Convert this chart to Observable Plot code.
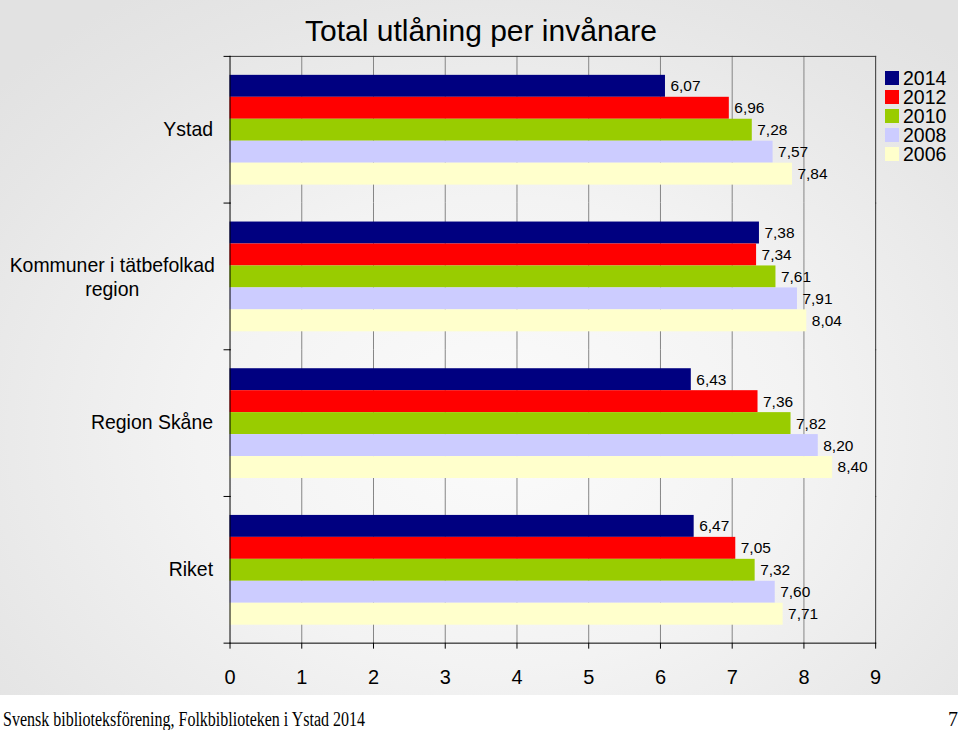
<!DOCTYPE html>
<html>
<head>
<meta charset="utf-8">
<script src="https://cdn.jsdelivr.net/npm/d3@7"></script>
<script src="https://cdn.jsdelivr.net/npm/@observablehq/plot@0.6"></script>
<style>
  html, body { margin: 0; padding: 0; background: #ffffff; }
  body { width: 960px; height: 730px; position: relative; overflow: hidden; font-family: "Liberation Sans", Arial, sans-serif; }
  #panel { position: absolute; left: 0; top: 0; width: 958px; height: 695px;
    background: radial-gradient(ellipse 70% 75% at 52% 62%, #fbfbfb 0%, #f3f3f3 45%, #e6e6e6 85%, #e2e2e2 100%); }
  #title { position: absolute; left: 0; width: 962px; top: 16px; text-align: center; font-size: 30px; line-height: 30px; color: #000; }
  #chart { position: absolute; left: 0; top: 0; }
  #legend { position: absolute; left: 885px; top: 69px; }
  .row { height: 18.8px; display: flex; align-items: center; font-size: 19.5px; line-height: 18px; color: #000; }
  .sw { width: 14px; height: 14px; margin-right: 4px; }
  #footer { position: absolute; left: 3px; top: 707px; font-family: "Liberation Serif", "Times New Roman", serif; font-size: 20px; line-height: 24px; white-space: nowrap; transform-origin: 0 0; color: #000; }
  #page { position: absolute; right: 2px; top: 707px; font-family: "Liberation Serif", "Times New Roman", serif; font-size: 20px; line-height: 24px; }
</style>
</head>
<body>
<div id="panel">
  <div id="chart"></div>
  <div id="title"></div>
  <div id="legend"></div>
</div>
<div id="footer"></div>
<div id="page"></div>
<script>
// ---- data ----
const titleText = "Total utlåning per invånare";
const categories = ["Ystad", "Kommuner i tätbefolkad region", "Region Skåne", "Riket"];
const categoryLabels = ["Ystad", "Kommuner i tätbefolkad\nregion", "Region Skåne", "Riket"];
const years = ["2014", "2012", "2010", "2008", "2006"];
const colors = ["#000080", "#ff0000", "#99cc00", "#ccccff", "#ffffcc"];
const v2014 = [6.07, 7.38, 6.43, 6.47];
const v2012 = [6.96, 7.34, 7.36, 7.05];
const v2010 = [7.28, 7.61, 7.82, 7.32];
const v2008 = [7.57, 7.91, 8.20, 7.60];
const v2006 = [7.84, 8.04, 8.40, 7.71];
const xTicks = [0, 1, 2, 3, 4, 5, 6, 7, 8, 9];
const footerText = "Svensk biblioteksförening, Folkbiblioteken i Ystad 2014";
const pageNumber = "7";

// ---- table ----
const seriesValues = [v2014, v2012, v2010, v2008, v2006];
const data = [];
categories.forEach((c, i) => {
  years.forEach((y, j) => data.push({category: c, year: y, value: seriesValues[j][i]}));
});
const labelOf = new Map(categories.map((c, i) => [c, categoryLabels[i]]));
const fmt = v => v.toFixed(2).replace(".", ",");

const W = 960, H = 695, ML = 230, MR = 83, MT = 55, MB = 50;
const plotW = W - ML - MR;
const single = categories.filter(c => !labelOf.get(c).includes("\n"));
const multi = categories.filter(c => labelOf.get(c).includes("\n"));

const chart = Plot.plot({
  width: W, height: H,
  marginLeft: ML, marginRight: MR, marginTop: MT, marginBottom: MB,
  style: {background: "transparent", fontFamily: "'Liberation Sans', Arial, sans-serif", color: "#000"},
  x: {domain: [xTicks[0], xTicks[xTicks.length - 1]], axis: null},
  y: {domain: years, paddingInner: 0, paddingOuter: 0.78, axis: null},
  fy: {domain: categories, padding: 0, axis: null},
  color: {domain: years, range: colors},
  marks: [
    Plot.gridX({ticks: xTicks.slice(1, -1), stroke: "#858585", strokeOpacity: 1}),
    Plot.barX(data, {fy: "category", y: "year", x: "value", fill: "year"}),
    Plot.text(data, {fy: "category", y: "year", x: "value", text: d => fmt(d.value),
      textAnchor: "start", dx: 5, fontSize: 15.5, fill: "#000"}),
    // borders
    Plot.frame({anchor: "top", facetAnchor: "top", stroke: "#333"}),
    Plot.frame({anchor: "right", stroke: "#333"}),
    Plot.frame({anchor: "left", stroke: "#000"}),
    Plot.frame({anchor: "bottom", facetAnchor: "bottom", stroke: "#000", insetLeft: -6}),
    // category boundary ticks
    Plot.frame({anchor: "top", stroke: "#000", insetLeft: -6, insetRight: plotW}),
    // axes
    Plot.axisX({ticks: xTicks, tickSize: 6, tickPadding: 21, fontSize: 20, stroke: "#000", label: null, tickFormat: d => String(d)}),
    Plot.axisFy({anchor: "left", ticks: single, tickSize: 0, tickPadding: 17, fontSize: 19.5, label: null,
      tickFormat: d => labelOf.get(d)}),
    Plot.axisFy({anchor: "left", ticks: multi, tickSize: 0, tickPadding: 17, fontSize: 19.5, label: null,
      tickFormat: d => labelOf.get(d), textAnchor: "middle", dx: -101, lineHeight: 1.25})
  ]
});
document.getElementById("chart").appendChild(chart);

document.getElementById("title").textContent = titleText;

const legend = document.getElementById("legend");
years.forEach((y, i) => {
  const row = document.createElement("div");
  row.className = "row";
  const sw = document.createElement("div");
  sw.className = "sw";
  sw.style.background = colors[i];
  const t = document.createElement("span");
  t.textContent = y;
  row.appendChild(sw); row.appendChild(t);
  legend.appendChild(row);
});

const footer = document.getElementById("footer");
footer.textContent = footerText;
const fw = footer.getBoundingClientRect().width;
footer.style.transform = `scaleX(${362 / fw})`;
document.getElementById("page").textContent = pageNumber;
</script>
</body>
</html>
